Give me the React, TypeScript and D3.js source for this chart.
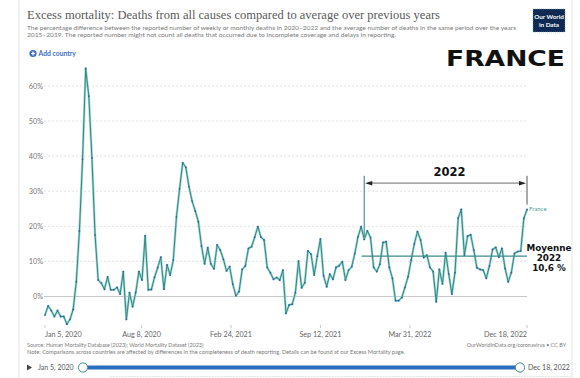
import React from "react";
import * as d3 from "d3";

// ---------- data ----------
const seriesName = "France";
const startDateStr = "2020-01-05";
const endDateStr = "2022-12-18";
// weekly excess mortality (%), France, Jan 5 2020 -> Dec 18 2022
const excessPct: number[] = [
  -5.3, -2.7, -4.0, -5.7, -4.0, -5.7, -5.7, -7.9, -6.5, -3.7,
  4.2, 18.7, 39.1, 65.0, 57.1, 39.5, 17.5, 4.7, 3.8, 2.1,
  5.6, 1.9, 1.9, 2.6, 0.7, 7.1, -6.5, 1.1, -2.9, 1.2,
  7.1, 4.7, 17.3, 1.9, 2.0, 5.5, 8.2, 11.2, 2.1, 9.0,
  6.1, 10.4, 22.7, 30.7, 38.1, 36.8, 31.3, 27.2, 24.4, 21.3,
  14.4, 9.3, 13.9, 9.3, 7.9, 14.7, 13.2, 10.6, 7.3, 8.5,
  3.5, 0.2, 1.4, 7.7, 8.7, 13.7, 14.2, 16.9, 19.9, 16.9,
  16.1, 8.3, 6.8, 4.9, 5.4, 4.7, 7.5, -4.8, -2.4, -2.2,
  1.1, 10.1, 2.5, 3.9, 13.0, 12.1, 6.1, 11.5, 16.4, 5.9,
  2.8, 6.4, 4.9, 8.3, 8.8, 9.9, 4.7, 7.5, 8.5, 12.3,
  17.0, 19.9, 16.3, 18.7, 16.8, 8.3, 7.1, 9.2, 15.4, 15.6,
  8.3, 5.2, -1.2, -1.2, -0.3, 2.6, 5.6, 10.4, 15.0, 18.5,
  16.1, 11.1, 11.8, 8.3, 7.1, -1.5, 7.7, 3.6, 12.5, 6.4,
  0.7, 6.8, 22.3, 24.8, 11.8, 17.2, 17.6, 13.2, 8.2, 7.7,
  7.5, 5.2, 8.7, 13.4, 14.0, 11.2, 13.7, 8.0, 4.2, 6.8,
  12.3, 12.8, 13.0, 22.3, 24.8,
];
const yTicks = [0, 10, 20, 30, 40, 50, 60];
const xTickDates = ["2020-01-05", "2020-08-08", "2021-02-24", "2021-09-12", "2022-03-31", "2022-12-18"];
const xTickLabels = ["Jan 5, 2020", "Aug 8, 2020", "Feb 24, 2021", "Sep 12, 2021", "Mar 31, 2022", "Dec 18, 2022"];

const titleText = "Excess mortality: Deaths from all causes compared to average over previous years";
const subtitleLines = [
  "The percentage difference between the reported number of weekly or monthly deaths in 2020–2022 and the average number of deaths in the same period over the years",
  "2015–2019. The reported number might not count all deaths that occurred due to incomplete coverage and delays in reporting.",
];
const sourceText = "Source: Human Mortality Database (2023); World Mortality Dataset (2023)";
const noteText = "Note: Comparisons across countries are affected by differences in the completeness of death reporting. Details can be found at our Excess Mortality page.";
const urlText = "OurWorldInData.org/coronavirus • CC BY";
const countryTitle = "FRANCE";
const yearLabel = "2022";
const avgLabelLines = ["Moyenne", "2022", "10,6 %"];
// annotation anchors (dates / values)
const bracketStart = "2021-12-19";
const bracketEnd = "2022-12-18";
const bracketValue = 32.3;
const bracketTop = 34.4;
const bracketLeftBottom = 16.4;
const bracketRightBottom = 26.2;
const avgLineStart = "2021-12-13";
const avgLineValue = 11.5;

const parse = (s: string) => new Date(s + "T00:00:00Z");

export default function App() {
  const W = 580, H = 378;
  const x = d3.scaleUtc().domain([parse(startDateStr), parse(endDateStr)]).range([45, 527]);
  const y = d3.scaleLinear().domain([0, 60]).range([296.5, 86]);
  const dates = excessPct.map((_, i) => d3.utcDay.offset(parse(startDateStr), 7 * i));
  const line = d3
    .line<number>()
    .x((_, i) => x(dates[i]))
    .y((d) => y(d));
  const path = line(excessPct) || "";
  const gridX0 = 44, gridX1 = 527;
  const sans = "Lato, 'Noto Sans', sans-serif";
  const last = excessPct.length - 1;

  const bx0 = x(parse(bracketStart));
  const bx1 = x(parse(bracketEnd));
  const by = y(bracketValue);

  return (
    <svg
      width={W}
      height={H}
      viewBox={`0 0 ${W} ${H}`}
      style={{ position: "absolute", left: 0, top: 0, display: "block", background: "#fff" }}
    >
      <rect x={0} y={0} width={W} height={H} fill="#fff" />
      {/* frame */}
      <line x1={19} x2={19} y1={0} y2={H} stroke="#e4e4e4" />
      <line x1={572} x2={572} y1={0} y2={H} stroke="#e4e4e4" />
      <line x1={110} x2={572} y1={376.5} y2={376.5} stroke="#ddd" strokeDasharray="1.5,1.5" />

      {/* header */}
      <text x={27} y={18.5} fontFamily="'Liberation Serif', serif" fontSize={12.5} fill="#5a5a5a" textLength={413} lengthAdjust="spacingAndGlyphs">
        {titleText}
      </text>
      {subtitleLines.map((t, i) => (
        <text key={i} x={27} y={29.5 + i * 7.8} fontFamily={sans} fontSize={6.2} fill="#7a7a7a" textLength={i === 0 ? 489 : 369} lengthAdjust="spacingAndGlyphs">
          {t}
        </text>
      ))}
      {/* logo */}
      <rect x={533} y={9} width={32} height={23} fill="#0e2a52" stroke="#7fa6d6" strokeWidth={0.6} strokeDasharray="1,1" />
      <text x={549} y={19} textAnchor="middle" fontFamily={sans} fontSize={6.3} fontWeight={700} fill="#fff">Our World</text>
      <text x={549} y={27} textAnchor="middle" fontFamily={sans} fontSize={6.3} fontWeight={700} fill="#fff">in Data</text>

      {/* add country */}
      <circle cx={33} cy={53.5} r={3.6} fill="#3a6fc2" />
      <line x1={31} x2={35} y1={53.5} y2={53.5} stroke="#fff" strokeWidth={1.2} />
      <line x1={33} x2={33} y1={51.5} y2={55.5} stroke="#fff" strokeWidth={1.2} />
      <text x={38.5} y={56} fontFamily={sans} fontSize={6.8} fontWeight={700} fill="#3a6fc2">Add country</text>

      {/* FRANCE */}
      <text x={446} y={66} fontFamily="'DejaVu Sans', sans-serif" fontWeight={700} fontSize={21} fill="#111" textLength={119} lengthAdjust="spacingAndGlyphs">
        {countryTitle}
      </text>

      {/* grid + y axis */}
      {yTicks.map((t) => (
        <g key={t}>
          <line
            x1={gridX0}
            x2={gridX1}
            y1={y(t)}
            y2={y(t)}
            stroke={t === 0 ? "#c8c8c8" : "#dcdcdc"}
            strokeWidth={t === 0 ? 1 : 0.8}
            strokeDasharray={t === 0 ? undefined : "2,2"}
          />
          <text x={43} y={y(t) + 2.5} textAnchor="end" fontFamily={sans} fontSize={7.3} fill="#777">
            {t}%
          </text>
        </g>
      ))}

      {/* x axis */}
      {xTickDates.map((d, i) => {
        const xx = x(parse(d));
        const anchor = i === 0 ? "start" : i === xTickDates.length - 1 ? "end" : "middle";
        return (
          <g key={d}>
            <line x1={xx} x2={xx} y1={325} y2={328} stroke="#bbb" strokeWidth={0.8} />
            <text x={xx} y={336.5} textAnchor={anchor} fontFamily={sans} fontSize={7.2} fill="#666">
              {xTickLabels[i]}
            </text>
          </g>
        );
      })}

      {/* data line */}
      <path d={path} fill="none" stroke="#a4d8d3" strokeWidth={2.4} strokeLinejoin="round" />
      <path d={path} fill="none" stroke="#2f8682" strokeWidth={1} strokeLinejoin="round" />
      {excessPct.map((v, i) => (
        <circle key={i} cx={x(dates[i])} cy={y(v)} r={0.9} fill="#2667a6" />
      ))}
      <text x={x(dates[last]) + 2} y={y(excessPct[last]) + 2} fontFamily={sans} fontSize={6} fill="#4a9d99">
        {seriesName}
      </text>

      {/* 2022 bracket */}
      <line x1={bx0} x2={bx0} y1={y(bracketTop)} y2={y(bracketLeftBottom)} stroke="#5a9e9a" strokeWidth={1.3} />
      <line x1={bx1} x2={bx1} y1={y(bracketTop)} y2={y(bracketRightBottom)} stroke="#555" strokeWidth={1} />
      <line x1={bx0 + 3} x2={bx1 - 3} y1={by} y2={by} stroke="#a8a8a8" strokeWidth={1.8} />
      <path d={`M${bx0 + 1},${by} L${bx0 + 8},${by - 2.3} L${bx0 + 8},${by + 2.3} Z`} fill="#222" />
      <path d={`M${bx1 - 1},${by} L${bx1 - 8},${by - 2.3} L${bx1 - 8},${by + 2.3} Z`} fill="#222" />
      <text x={(bx0 + bx1) / 2 + 4} y={by - 7} textAnchor="middle" fontFamily="'DejaVu Sans', sans-serif" fontWeight={700} fontSize={11.5} fill="#111">
        {yearLabel}
      </text>

      {/* average line */}
      <line x1={x(parse(avgLineStart))} x2={bx1} y1={y(avgLineValue)} y2={y(avgLineValue)} stroke="#3c8e8a" strokeWidth={1.2} />
      {avgLabelLines.map((t, i) => (
        <text key={i} x={549} y={251 + i * 10} textAnchor="middle" fontFamily="'DejaVu Sans', sans-serif" fontWeight={700} fontSize={8.8} fill="#111">
          {t}
        </text>
      ))}

      {/* footer */}
      <text x={27} y={346.5} fontFamily={sans} fontSize={5.4} fill="#7a7a7a">{sourceText}</text>
      <text x={27} y={354} fontFamily={sans} fontSize={5.4} fill="#7a7a7a" textLength={378} lengthAdjust="spacingAndGlyphs">{noteText}</text>
      <text x={566} y={346.5} textAnchor="end" fontFamily={sans} fontSize={5.4} fill="#7a7a7a">{urlText}</text>

      {/* timeline */}
      <path d="M27,364.5 L32,367.5 L27,370.5 Z" fill="#444" />
      <text x={38} y={370} fontFamily={sans} fontSize={7} fill="#555">{xTickLabels[0]}</text>
      <rect x={83} y={365.5} width={437} height={4} fill="#2c6cc0" />
      <circle cx={83} cy={367.5} r={4.6} fill="#fff" stroke="#3f8f8b" strokeWidth={1} />
      <circle cx={520} cy={367.5} r={4.6} fill="#fff" stroke="#3f8f8b" strokeWidth={1} />
      <text x={528} y={370} fontFamily={sans} fontSize={7} fill="#555">{xTickLabels[xTickLabels.length - 1]}</text>
    </svg>
  );
}
